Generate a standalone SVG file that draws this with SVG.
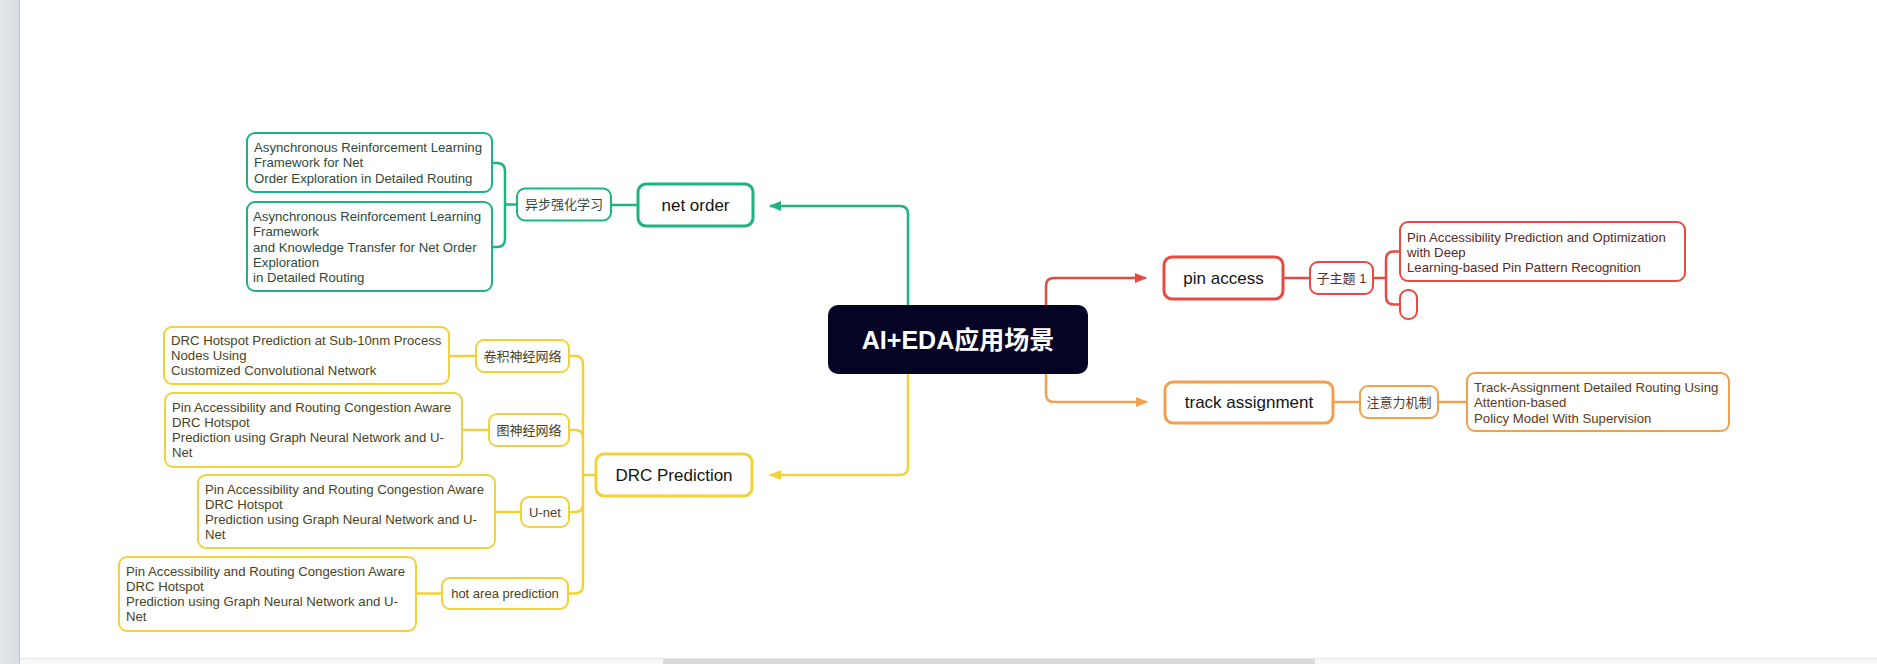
<svg xmlns="http://www.w3.org/2000/svg" width="1877" height="664" viewBox="0 0 1877 664">
<style>
text{font-family:"Liberation Sans","Noto Sans CJK SC",sans-serif}
.box{fill:#fff;stroke-width:2}
.main{fill:#fff;stroke-width:3}
.g{stroke:#1fb37d}.y{stroke:#f1d23a}.r{stroke:#e64a40}.o{stroke:#f3a04e}
.ln{fill:none;stroke-width:2.5}
.t13{font-size:13.2px}
.t17{font-size:17px;fill:#141414;text-anchor:middle}
.lab{font-size:13px;text-anchor:middle}
.tg{fill:#2d4a40}.ty{fill:#4a4322}.tr{fill:#5a2a26}.to{fill:#5a3a20}
</style>
<defs>
<marker id="ag" markerWidth="12" markerHeight="10" refX="11" refY="5" orient="auto" markerUnits="userSpaceOnUse"><path d="M0 0L12 5L0 10z" fill="#1fb37d"/></marker>
<marker id="ay" markerWidth="12" markerHeight="10" refX="11" refY="5" orient="auto" markerUnits="userSpaceOnUse"><path d="M0 0L12 5L0 10z" fill="#f1d23a"/></marker>
<marker id="ar" markerWidth="12" markerHeight="10" refX="11" refY="5" orient="auto" markerUnits="userSpaceOnUse"><path d="M0 0L12 5L0 10z" fill="#e64a40"/></marker>
<marker id="ao" markerWidth="12" markerHeight="10" refX="11" refY="5" orient="auto" markerUnits="userSpaceOnUse"><path d="M0 0L12 5L0 10z" fill="#f3a04e"/></marker>
<linearGradient id="sb" x1="0" x2="1"><stop offset="0" stop-color="#e4e7eb"/><stop offset="1" stop-color="#d9dde1"/></linearGradient>
</defs>
<rect width="1877" height="664" fill="#fff"/>
<rect x="0" y="0" width="19" height="664" fill="url(#sb)"/>
<line x1="19.5" y1="0" x2="19.5" y2="664" stroke="#c4c8cc"/>
<rect x="20" y="658" width="1857" height="6" fill="#f8f8f8"/>
<line x1="20" y1="658.5" x2="1877" y2="658.5" stroke="#e6e6e6"/>
<rect x="663" y="659" width="652" height="5" fill="#d9d9d9"/>

<g id="connectors">
<path class="ln g" d="M908 305V214Q908 206 900 206H770" marker-end="url(#ag)"/>
<path class="ln y" d="M908 374V467Q908 475 900 475H770" marker-end="url(#ay)"/>
<path class="ln r" d="M1046 305V286Q1046 278 1054 278H1146" marker-end="url(#ar)"/>
<path class="ln o" d="M1046 374V394Q1046 402 1054 402H1147" marker-end="url(#ao)"/>
<path class="ln g" d="M638 205H611M517 204.5H505M492 163H497Q505 163 505 171V239Q505 247 497 247H492" stroke-width="2"/>
<path class="ln y" d="M596 475H583M569 356H575Q583 356 583 364V585Q583 593.5 575 593.5H568M569 430H575Q583 430 583 438M569 512H575Q583 512 583 504M449 356H476M462 430H489M495 512H521M416 593.5H442" stroke-width="2"/>
<path class="ln r" d="M1283 278H1310M1373 278H1386M1400 251.5H1394Q1386 251.5 1386 259.5V296.5Q1386 304.5 1394 304.5H1400" stroke-width="2"/>
<path class="ln o" d="M1333 402H1360M1438 402H1467" stroke-width="2"/>
</g>

<g id="root">
<rect x="828" y="305" width="260" height="69" rx="10" fill="#050425"/>
<text x="958" y="349" font-size="25" font-weight="bold" fill="#fff" text-anchor="middle">AI+EDA应用场景</text>
</g>

<g id="net-order">
<rect class="main g" x="638" y="184" width="115" height="42" rx="8"/>
<text class="t17" x="695.5" y="211">net order</text>
</g>
<g id="async-rl">
<rect class="box g" x="517" y="188.5" width="94" height="32" rx="8"/>
<text class="lab tg" x="564" y="209">异步强化学习</text>
</g>
<g id="paper-g1">
<rect class="box g" x="247" y="133" width="245" height="59" rx="8"/>
<text class="t13 tg" x="254" y="152">Asynchronous Reinforcement Learning</text>
<text class="t13 tg" x="254" y="167.3">Framework for Net</text>
<text class="t13 tg" x="254" y="182.6">Order Exploration in Detailed Routing</text>
</g>
<g id="paper-g2">
<rect class="box g" x="247" y="202" width="245" height="89" rx="8"/>
<text class="t13 tg" x="253" y="221">Asynchronous Reinforcement Learning</text>
<text class="t13 tg" x="253" y="236.3">Framework</text>
<text class="t13 tg" x="253" y="251.6">and Knowledge Transfer for Net Order</text>
<text class="t13 tg" x="253" y="266.9">Exploration</text>
<text class="t13 tg" x="253" y="282.2">in Detailed Routing</text>
</g>

<g id="drc-prediction">
<rect class="main y" x="596" y="454" width="156" height="42" rx="8"/>
<text class="t17" x="674" y="481">DRC Prediction</text>
</g>
<g id="cnn">
<rect class="box y" x="476" y="340" width="93" height="32" rx="8"/>
<text class="lab ty" x="522.5" y="360.5">卷积神经网络</text>
</g>
<g id="gnn">
<rect class="box y" x="489" y="414" width="80" height="32" rx="8"/>
<text class="lab ty" x="529" y="434.5">图神经网络</text>
</g>
<g id="unet">
<rect class="box y" x="521" y="497" width="48" height="30" rx="8"/>
<text class="lab ty" x="545" y="516.5">U-net</text>
</g>
<g id="hot-area">
<rect class="box y" x="442" y="578" width="126" height="31" rx="8"/>
<text class="lab ty" x="505" y="598">hot area prediction</text>
</g>
<g id="paper-y1">
<rect class="box y" x="164" y="327" width="285" height="57" rx="8"/>
<text class="t13 ty" x="171" y="345">DRC Hotspot Prediction at Sub-10nm Process</text>
<text class="t13 ty" x="171" y="360">Nodes Using</text>
<text class="t13 ty" x="171" y="375">Customized Convolutional Network</text>
</g>
<g id="paper-y2">
<rect class="box y" x="165" y="393" width="297" height="74" rx="8"/>
<text class="t13 ty" x="172" y="411.7">Pin Accessibility and Routing Congestion Aware</text>
<text class="t13 ty" x="172" y="426.7">DRC Hotspot</text>
<text class="t13 ty" x="172" y="441.7">Prediction using Graph Neural Network and U-</text>
<text class="t13 ty" x="172" y="456.7">Net</text>
</g>
<g id="paper-y3">
<rect class="box y" x="198" y="475" width="297" height="73" rx="8"/>
<text class="t13 ty" x="205" y="493.7">Pin Accessibility and Routing Congestion Aware</text>
<text class="t13 ty" x="205" y="508.7">DRC Hotspot</text>
<text class="t13 ty" x="205" y="523.7">Prediction using Graph Neural Network and U-</text>
<text class="t13 ty" x="205" y="538.7">Net</text>
</g>
<g id="paper-y4">
<rect class="box y" x="119" y="557" width="297" height="74" rx="8"/>
<text class="t13 ty" x="126" y="575.5">Pin Accessibility and Routing Congestion Aware</text>
<text class="t13 ty" x="126" y="590.5">DRC Hotspot</text>
<text class="t13 ty" x="126" y="605.5">Prediction using Graph Neural Network and U-</text>
<text class="t13 ty" x="126" y="620.5">Net</text>
</g>

<g id="pin-access">
<rect class="main r" x="1164" y="257" width="119" height="42" rx="8"/>
<text class="t17" x="1223.5" y="284">pin access</text>
</g>
<g id="subtopic-1">
<rect class="box r" x="1310" y="262" width="63" height="32" rx="8"/>
<text class="lab tr" x="1341.5" y="282.5">子主题 1</text>
</g>
<g id="paper-r1">
<rect class="box r" x="1400" y="222" width="285" height="59" rx="8"/>
<text class="t13 tr" x="1407" y="241.6">Pin Accessibility Prediction and Optimization</text>
<text class="t13 tr" x="1407" y="256.9">with Deep</text>
<text class="t13 tr" x="1407" y="272.2">Learning-based Pin Pattern Recognition</text>
</g>
<g id="empty-r2">
<rect class="box r" x="1400" y="290" width="17" height="29" rx="8"/>
</g>

<g id="track-assignment">
<rect class="main o" x="1165" y="382" width="168" height="41" rx="8"/>
<text class="t17" x="1249" y="408">track assignment</text>
</g>
<g id="attention">
<rect class="box o" x="1360" y="386" width="78" height="32" rx="8"/>
<text class="lab to" x="1399" y="406.5">注意力机制</text>
</g>
<g id="paper-o1">
<rect class="box o" x="1467" y="373" width="262" height="58" rx="8"/>
<text class="t13 to" x="1474" y="392">Track-Assignment Detailed Routing Using</text>
<text class="t13 to" x="1474" y="407.3">Attention-based</text>
<text class="t13 to" x="1474" y="422.6">Policy Model With Supervision</text>
</g>
</svg>
